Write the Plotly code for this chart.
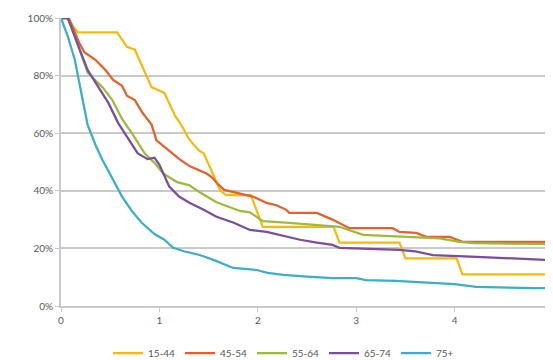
import plotly.graph_objects as go

series_names = ["15-44", "45-54", "55-64", "65-74", "75+"]
colors = ["#F7BA0B", "#E5602A", "#9DBB3A", "#7A4E9F", "#3AAFCB"]

t_1544 = [0, 0.06, 0.17, 0.57, 0.67, 0.75, 0.92, 0.98, 1.05, 1.16, 1.22, 1.30, 1.40, 1.45, 1.55, 1.62, 1.68, 1.93, 2.05, 2.77, 2.83, 3.44, 3.50, 4.02, 4.08, 5.0]
v_1544 = [100, 100, 95, 95, 90, 89, 76, 75, 74, 66, 63, 58, 54, 53, 45, 40, 38.5, 38.5, 27.5, 27.5, 22, 22, 16.5, 16.5, 11, 11]

t_4554 = [0, 0.08, 0.19, 0.24, 0.35, 0.45, 0.53, 0.62, 0.67, 0.75, 0.83, 0.92, 0.97, 1.1, 1.21, 1.31, 1.41, 1.48, 1.54, 1.58, 1.66, 1.95, 2.09, 2.19, 2.29, 2.32, 2.6, 2.76, 2.93, 3.37, 3.44, 3.61, 3.71, 3.95, 4.08, 5.0]
v_4554 = [100, 100, 91, 88, 85.5, 82, 78.5, 76.5, 73, 71.5, 67, 63, 57.5, 54, 50.8, 48.5, 47, 46, 44.5, 42.8, 40.3, 38, 35.8, 35, 33.4, 32.3, 32.3, 30, 27, 27, 25.7, 25.4, 24, 24, 22.3, 22.3]

t_5564 = [0, 0.07, 0.2, 0.27, 0.42, 0.52, 0.62, 0.72, 0.85, 0.95, 1.04, 1.18, 1.3, 1.41, 1.58, 1.82, 1.92, 2.05, 2.32, 2.6, 2.83, 3.07, 3.61, 3.85, 4.05, 4.2, 5.0]
v_5564 = [100, 100, 88, 81, 76, 71.6, 65, 60, 53, 49.7, 46, 43, 42, 39.5, 36, 33, 32.5, 29.5, 28.9, 28, 27.5, 24.7, 24, 23.5, 22.3, 21.8, 21.5]

t_6574 = [0, 0.07, 0.19, 0.27, 0.38, 0.48, 0.58, 0.7, 0.78, 0.88, 0.95, 1.0, 1.1, 1.2, 1.31, 1.45, 1.58, 1.75, 1.92, 2.09, 2.25, 2.43, 2.6, 2.76, 2.83, 3.1, 3.44, 3.6, 3.78, 4.28, 4.6, 4.8, 5.0]
v_6574 = [100, 100, 89, 82, 76, 70.6, 63.6, 57, 53, 51, 51.5, 49, 41.5, 38, 35.8, 33.4, 31, 29, 26.4, 25.7, 24.5, 23, 22, 21.2, 20.2, 20, 19.5, 19, 17.7, 17, 16.5, 16, 15.9]

t_75p = [0, 0.07, 0.14, 0.21, 0.27, 0.35, 0.42, 0.53, 0.62, 0.72, 0.82, 0.95, 1.05, 1.14, 1.25, 1.41, 1.55, 1.75, 1.85, 1.99, 2.1, 2.26, 2.5, 2.76, 3.0, 3.1, 3.4, 3.78, 4.0, 4.22, 4.5, 4.8, 5.0]
v_75p = [100, 93.5, 85.5, 73, 63, 56, 50.8, 43.8, 38, 33, 28.9, 25, 23, 20.2, 19, 17.7, 16, 13.2, 13, 12.5, 11.5, 10.8, 10.2, 9.7, 9.7, 9, 8.7, 8, 7.6, 6.6, 6.3, 6.2, 6.2]

y_tickvals = [0, 20, 40, 60, 80, 100]
y_ticktext = ["0%", "20%", "40%", "60%", "80%", "100%"]
x_tickvals = [0, 1, 2, 3, 4, 5]
x_ticktext = ["0", "1", "2", "3", "4", "5"]

data = [(t_1544, v_1544), (t_4554, v_4554), (t_5564, v_5564), (t_6574, v_6574), (t_75p, v_75p)]

fig = go.Figure()
for name, color, (t, v) in zip(series_names, colors, data):
    fig.add_trace(go.Scatter(x=t, y=v, mode="lines", name=name,
                             line=dict(color=color, width=2.25)))

# the page body has an 8px default margin, so the figure is sized to fit the window
W, H = 545, 352
axis_col = "#C9C9C9"
fig.update_layout(
    width=W, height=H,
    margin=dict(l=53, r=0, t=10, b=54, autoexpand=False),
    paper_bgcolor="white", plot_bgcolor="white",
    font=dict(family="Lato, Open Sans, sans-serif", size=10, color="#595959"),
    showlegend=True,
    legend=dict(orientation="h", xref="container", yref="container",
                x=100 / W, xanchor="left",
                y=1 - 345 / H, yanchor="middle",
                entrywidth=27, entrywidthmode="pixels",
                font=dict(size=10, color="#595959")),
    xaxis=dict(range=[0, 5], tickvals=x_tickvals, ticktext=x_ticktext, automargin=False,
               showgrid=False, zeroline=False, showline=True, linecolor=axis_col,
               linewidth=2, ticks="outside", ticklen=4, tickcolor=axis_col, tickwidth=1),
    yaxis=dict(range=[0, 100], tickvals=y_tickvals, ticktext=y_ticktext, automargin=False,
               showgrid=True, gridcolor=axis_col, gridwidth=2, zeroline=False,
               showline=True, linecolor=axis_col, linewidth=2,
               ticks="outside", ticklen=4, tickcolor=axis_col, tickwidth=1),
)

fig.write_html("out.html")
